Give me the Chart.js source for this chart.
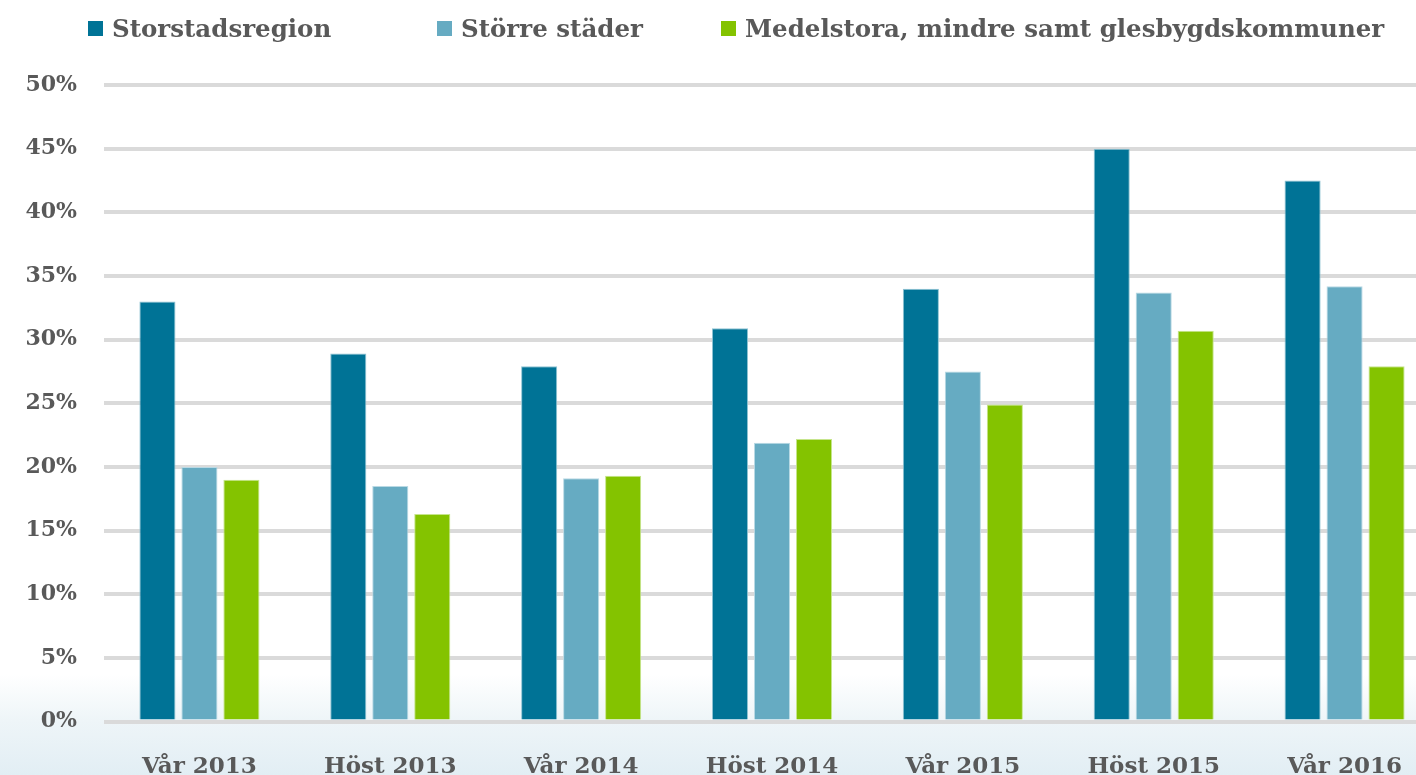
<!DOCTYPE html>
<html>
<head>
<meta charset="utf-8">
<script src="https://cdn.jsdelivr.net/npm/chart.js@4.4.1/dist/chart.umd.min.js"></script>
<style>
  html, body { margin: 0; padding: 0; }
  body {
    width: 1416px; height: 775px; overflow: hidden; position: relative;
    background: linear-gradient(to bottom, #ffffff 0%, #ffffff 87%, #eef5f8 93%, #e2eef4 100%);
    font-family: "DejaVu Serif", serif;
  }
  #wrap { position: absolute; left: 0; top: 0; width: 1440px; height: 775px; }
  .legend { position: absolute; top: 0; left: 0; height: 60px; }
  .legend-item { position: absolute; top: 14px; display: flex; align-items: center; white-space: nowrap;
    font-weight: bold; font-size: 24.5px; color: #595959; }
  .legend-item .box { width: 15px; height: 15px; margin-right: 9px; }
</style>
</head>
<body>
<div id="wrap"><canvas id="chart"></canvas></div>
<div class="legend" id="legend"></div>
<script>
const categories = ["Vår 2013", "Höst 2013", "Vår 2014", "Höst 2014", "Vår 2015", "Höst 2015", "Vår 2016"];
const seriesNames = ["Storstadsregion", "Större städer", "Medelstora, mindre samt glesbygdskommuner"];
const storstadsregion = [33, 28.9, 27.9, 30.9, 34, 45, 42.5];
const storreStader = [20, 18.5, 19.1, 21.9, 27.5, 33.7, 34.2];
const medelstora = [19, 16.3, 19.3, 22.2, 24.9, 30.7, 27.9];
const yTicks = [0, 5, 10, 15, 20, 25, 30, 35, 40, 45, 50];

const colors = ["#007396", "#66abc2", "#84c300"];
const edges = ["#8fc3d3", "#b9d9e4", "#c6e58c"];
const labelGray = "#595959";

// legend as plain html above the canvas
const legendLeft = [88, 437, 721];
const legendEl = document.getElementById("legend");
seriesNames.forEach((name, i) => {
  const item = document.createElement("div");
  item.className = "legend-item";
  item.style.left = legendLeft[i] + "px";
  item.innerHTML = `<span class="box" style="background:${colors[i]}"></span><span>${name}</span>`;
  legendEl.appendChild(item);
});

const values = [storstadsregion, storreStader, medelstora];
const ctx = document.getElementById("chart").getContext("2d");
new Chart(ctx, {
  type: "bar",
  data: {
    labels: categories,
    datasets: values.map((v, i) => ({
      label: seriesNames[i],
      data: v,
      backgroundColor: colors[i],
      borderColor: edges[i],
      borderWidth: 1,
      borderSkipped: "bottom",
      categoryPercentage: 0.66,
      barPercentage: 0.86
    }))
  },
  options: {
    responsive: true,
    maintainAspectRatio: false,
    animation: false,
    layout: { padding: { top: 85, left: 0, right: 0, bottom: 0 } },
    plugins: { legend: { display: false }, tooltip: { enabled: false } },
    scales: {
      x: {
        grid: { display: false },
        border: { display: false },
        ticks: {
          color: labelGray,
          padding: 24,
          font: { family: "DejaVu Serif", size: 23, weight: "bold" }
        },
        afterFit: (scale) => { scale.height = 53.5; }
      },
      y: {
        min: 0,
        max: 50,
        afterBuildTicks: (scale) => { scale.ticks = yTicks.map(v => ({ value: v })); },
        grid: { color: "#dadada", lineWidth: 4, drawTicks: false },
        border: { display: false },
        ticks: {
          color: labelGray,
          padding: 27,
          font: { family: "DejaVu Serif", size: 22, weight: "bold" },
          callback: (v) => v + "%"
        },
        afterFit: (scale) => { scale.width = 104; }
      }
    }
  }
});
</script>
</body>
</html>
